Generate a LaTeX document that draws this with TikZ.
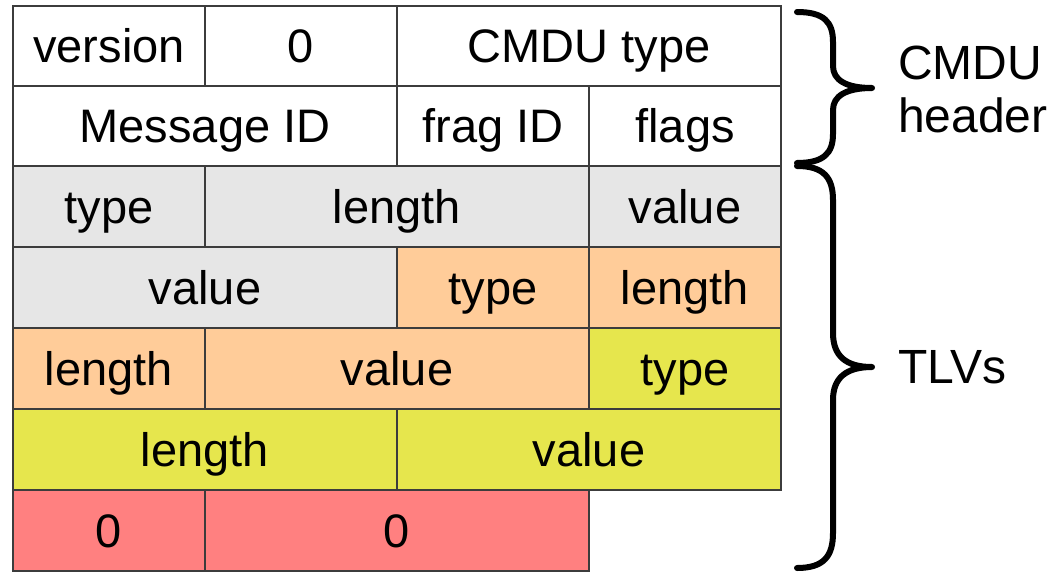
\documentclass[tikz,border=0pt]{standalone}
\usepackage{fontspec}
\setmainfont{Liberation Sans}
\definecolor{fieldgray}{HTML}{E6E6E6}
\definecolor{fieldorange}{HTML}{FFCC99}
\definecolor{fieldyellow}{HTML}{E6E64D}
\definecolor{fieldred}{HTML}{FF8080}
\definecolor{gridline}{HTML}{3C3C3C}
\tikzset{
  cell/.style={draw=gridline, line width=1.3pt, inner sep=0pt,
    text height=33.5pt, text depth=0pt,
    font=\fontsize{47}{56}\selectfont},
  bracepath/.style={draw=black, line width=6pt, line cap=round, line join=round},
  bracelabel/.style={anchor=base west, inner sep=0pt,
    font=\fontsize{48}{54}\selectfont}
}
% \cellbox{name}{x1}{y1}{x2}{y2}{fill}{text}
\newcommand{\cellbox}[7]{%
  \node[cell, fill=#6, minimum width={(#4-#2)*1pt}, minimum height={(#5-#3)*1pt}]
    (#1) at ({(#2+#4)/2},{(#3+#5)/2}) {#7};}
\begin{document}
\begin{tikzpicture}[x=1pt,y=-1pt]
\useasboundingbox (0,0) rectangle (1054,573);
% CMDU header
\cellbox{ver}{13}{6}{205}{86}{white}{version}
\cellbox{rsv}{205}{6}{397}{86}{white}{0}
\cellbox{ctype}{397}{6}{781}{86}{white}{CMDU type}
\cellbox{mid}{13}{86}{397}{166}{white}{Message ID}
\cellbox{fid}{397}{86}{589}{166}{white}{frag ID}
\cellbox{flg}{589}{86}{781}{166}{white}{flags}
% first TLV
\cellbox{tA}{13}{166}{205}{247}{fieldgray}{type}
\cellbox{lA}{205}{166}{589}{247}{fieldgray}{length}
\cellbox{vA}{589}{166}{781}{247}{fieldgray}{value}
\cellbox{vAb}{13}{247}{397}{328}{fieldgray}{value}
% second TLV
\cellbox{tB}{397}{247}{589}{328}{fieldorange}{type}
\cellbox{lB}{589}{247}{781}{328}{fieldorange}{length}
\cellbox{lBb}{13}{328}{205}{409}{fieldorange}{length}
\cellbox{vB}{205}{328}{589}{409}{fieldorange}{value}
% third TLV
\cellbox{tC}{589}{328}{781}{409}{fieldyellow}{type}
\cellbox{lC}{13}{409}{397}{490}{fieldyellow}{length}
\cellbox{vC}{397}{409}{781}{490}{fieldyellow}{value}
% end of message TLV
\cellbox{tD}{13}{490}{205}{571}{fieldred}{0}
\cellbox{lD}{205}{490}{589}{571}{fieldred}{0}
% braces
\draw[bracepath] (797,12) .. controls (824,12) and (833,22) .. (833,42)
  -- (833,66) .. controls (833,80) and (846,88) .. (872,88)
  .. controls (846,88) and (833,96) .. (833,110)
  -- (833,134) .. controls (833,153) and (824,163) .. (797,163);
\draw[bracepath] (797,166) .. controls (824,166) and (833,178) .. (833,200)
  -- (833,333) .. controls (833,356) and (846,367) .. (872,367)
  .. controls (846,367) and (833,378) .. (833,400)
  -- (833,533) .. controls (833,556) and (824,568) .. (797,568);
\node[bracelabel] (hdr1) at (898,79) {CMDU};
\node[bracelabel] (hdr2) at (898,132) {header};
\node[bracelabel] (tlv) at (898,383) {TLVs};
\end{tikzpicture}
\end{document}
